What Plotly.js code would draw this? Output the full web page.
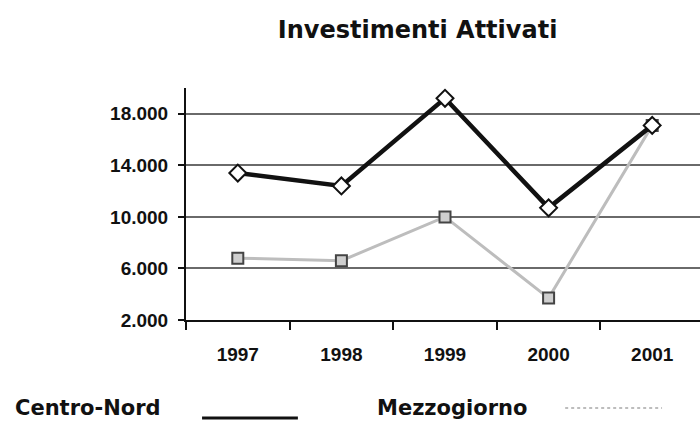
<!DOCTYPE html>
<html>
<head>
<meta charset="utf-8">
<script src="https://cdn.plot.ly/plotly-3.0.1.min.js"></script>
<style>
  html, body { margin: 0; padding: 0; background: white; overflow: hidden; }
  #chart { width: 704px; height: 422px; }
</style>
</head>
<body>
<div id="chart"></div>
<script>
// Investimenti attivati, Centro-Nord vs Mezzogiorno.
const years = ["1997", "1998", "1999", "2000", "2001"];
const centroNord = [13400, 12400, 19200, 10700, 17100];
const mezzogiorno = [6800, 6600, 10000, 3700, 17100];
const yTicks = [2000, 6000, 10000, 14000, 18000];

const COLORS = { dark: "#111111", light: "#bdbdbd", grid: "#6a6a6a" };
const HAND = "'DejaVu Sans', sans-serif";

const traces = [
  {
    x: years, y: mezzogiorno, mode: "lines+markers", name: "Mezzogiorno",
    line: { color: COLORS.light, width: 3 },
    marker: { symbol: "square", size: 11, color: "#cfcfcf", line: { color: "#444", width: 2 } },
  },
  {
    x: years, y: centroNord, mode: "lines+markers", name: "Centro-Nord",
    line: { color: COLORS.dark, width: 4.5 },
    marker: { symbol: "diamond", size: 13, color: "white", line: { color: COLORS.dark, width: 2 } },
  },
];

const layout = {
  width: 704, height: 422,
  margin: { l: 186, r: 0, t: 88, b: 102 },
  paper_bgcolor: "white", plot_bgcolor: "white",
  separators: ",.",
  showlegend: false,
  font: { family: "'Liberation Sans', Arial, sans-serif", color: "#111" },
  title: {
    text: "Investimenti Attivati", xref: "paper", x: 0.447, yref: "container", y: 0.931, yanchor: "middle",
    font: { family: HAND, size: 24, weight: "bold", color: "#111" },
  },
  xaxis: {
    type: "category", range: [-0.5, 4.5], tickson: "boundaries",
    ticks: "outside", ticklen: 8, tickwidth: 2, tickcolor: "#111",
    showline: true, linecolor: "#111", linewidth: 2,
    showgrid: false, ticklabelstandoff: 16,
    tickfont: { size: 19, weight: "bold" },
  },
  yaxis: {
    range: [2000, 20000], tickvals: yTicks, tickformat: ",.0f",
    ticks: "outside", ticklen: 6, tickwidth: 2, tickcolor: "#111",
    showline: true, linecolor: "#111", linewidth: 2,
    showgrid: true, gridcolor: COLORS.grid, gridwidth: 2, zeroline: false,
    ticklabelstandoff: 6,
    tickfont: { size: 19, weight: "bold" },
  },
  annotations: [
    { text: "Centro-Nord", xref: "paper", yref: "paper", x: -0.334, y: -0.38, xanchor: "left", yanchor: "middle", showarrow: false, font: { family: HAND, size: 21, weight: "bold", color: "#111" } },
    { text: "Mezzogiorno", xref: "paper", yref: "paper", x: 0.365, y: -0.38, xanchor: "left", yanchor: "middle", showarrow: false, font: { family: HAND, size: 21, weight: "bold", color: "#111" } },
  ],
  // Legend sample lines, placed like the original's text-first legend.
  shapes: [
    { type: "line", xref: "paper", yref: "paper", x0: 0.031, x1: 0.216, y0: -0.422, y1: -0.422, line: { color: COLORS.dark, width: 3 } },
    { type: "line", xref: "paper", yref: "paper", x0: 0.732, x1: 0.919, y0: -0.379, y1: -0.379, line: { color: COLORS.light, width: 2, dash: "dot" } },
  ],
};

Plotly.newPlot("chart", traces, layout, { displayModeBar: false, staticPlot: true });
</script>
</body>
</html>
